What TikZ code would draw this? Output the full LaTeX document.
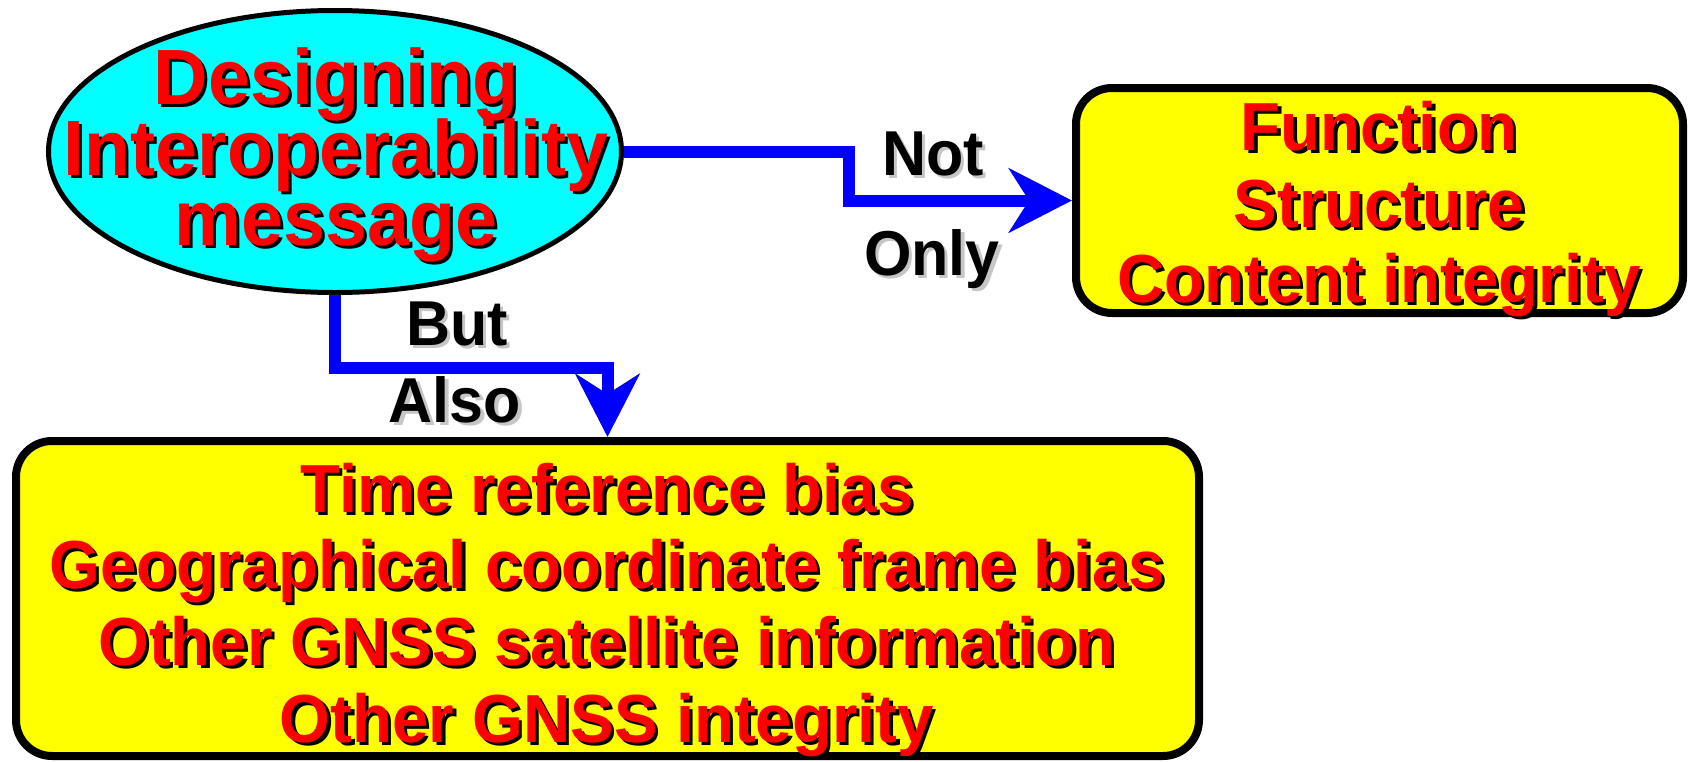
\documentclass[tikz,border=0pt]{standalone}
\usepackage{graphicx}
\usepackage{fontspec}
\setmainfont{Liberation Sans}
\usetikzlibrary{arrows.meta,shapes.geometric}
\definecolor{ovalfill}{RGB}{0,255,255}
\definecolor{boxfill}{RGB}{255,255,0}
\definecolor{flowblue}{RGB}{0,0,255}
\definecolor{hotred}{RGB}{255,0,0}
% slightly tall text with a drop shadow offset down and to the right
\newcommand\castshadow[2]{\leavevmode\scalebox{1}[1.04]{\rlap{\kern1.6pt\raisebox{-1.5pt}{\color{#1}#2}}#2}}
\begin{document}
\begin{tikzpicture}[x=0.5pt,y=-0.5pt,
  oval/.style={ellipse, draw=black, line width=2.5pt, fill=ovalfill,
    minimum width=286.5pt, minimum height=141pt, inner sep=0pt},
  ybox/.style={rectangle, rounded corners=18pt, draw=black, line width=4pt,
    fill=boxfill, inner sep=0pt},
  bigtext/.style={anchor=base, inner sep=0pt, text=hotred,
    font=\bfseries\fontsize{37.7pt}{37.7pt}\selectfont},
  redtext/.style={anchor=base, inner sep=0pt, text=hotred,
    font=\bfseries\fontsize{32.7pt}{32.7pt}\selectfont},
  blacktag/.style={anchor=base, inner sep=0pt, text=black,
    font=\bfseries\fontsize{30.5pt}{30.5pt}\selectfont},
  flowarrow/.style={draw=flowblue, line width=6pt,
    -{Stealth[length=31.5pt, width=32pt, inset=10pt]}}
]
\useasboundingbox (0,0) rectangle (1688,761);

% starting point
\node[oval] (ell) at (335,151.5) {};
\node[bigtext] (d1) at (336,104) {\castshadow{black}{Designing}};
\node[bigtext] (d2) at (336,175) {\castshadow{black}{Interoperability}};
\node[bigtext] (d3) at (336,245) {\castshadow{black}{message}};

% "not only" box
\node[ybox, minimum width=303.5pt, minimum height=112.5pt] (fn) at (1379.5,200.5) {};
\node[redtext] (f1) at (1379,150) {\castshadow{black}{Function}};
\node[redtext] (f2) at (1379,227) {\castshadow{black}{Structure}};
\node[redtext] (f3) at (1379,302) {\castshadow{black}{Content integrity}};

% "but also" box
\node[ybox, minimum width=591.5pt, minimum height=157.5pt] (low) at (607.5,598.5) {};
\node[redtext] (l1) at (607,512) {\castshadow{black}{Time reference bias}};
\node[redtext] (l2) at (607,588) {\castshadow{black}{Geographical coordinate frame bias}};
\node[redtext] (l3) at (607,665) {\castshadow{black}{Other GNSS satellite information}};
\node[redtext] (l4) at (607,742) {\castshadow{black}{Other GNSS integrity}};

% connector labels
\node[blacktag] (not) at (933,175) {\castshadow{gray!45}{Not}};
\node[blacktag] (only) at (932,275) {\castshadow{gray!45}{Only}};
\node[blacktag] (but) at (457,345) {\castshadow{gray!45}{But}};
\node[blacktag] (also) at (455,422) {\castshadow{gray!45}{Also}};

% connectors
\draw[flowarrow] (ell.east) -- ++(225,0) |- (fn.west);
\draw[flowarrow] (ell.south) -- ++(0,73) -| (low.north);
\end{tikzpicture}
\end{document}
